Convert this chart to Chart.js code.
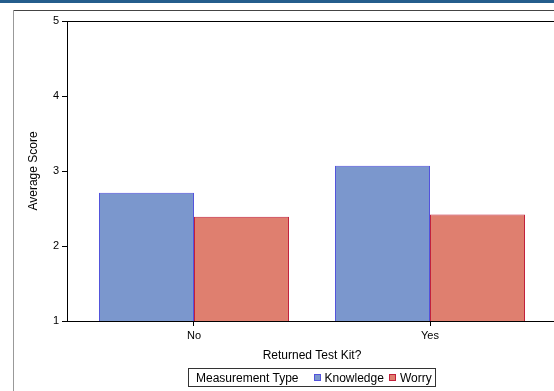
<!DOCTYPE html>
<html>
<head>
<meta charset="utf-8">
<script src="https://cdn.jsdelivr.net/npm/chart.js@4"></script>
<style>
  body { margin: 0; background: #fff; overflow: hidden; font-family: "Liberation Sans", Arial, sans-serif; }
  #wrap { position: relative; width: 554px; height: 391px; overflow: hidden; }
  #topband { position: absolute; left: 0; top: 0; width: 554px; height: 3px; background: #245d8c; }
  #frameTop { position: absolute; left: 13px; top: 10px; width: 541px; height: 1px; background: #444; }
  #frameLeft { position: absolute; left: 13px; top: 10px; width: 1px; height: 381px; background: #999; }
  #chart { position: absolute; left: 0; top: 0; }
  #legend { position: absolute; top: 368px; left: 188px; height: 17px; border: 1px solid #333;
    display: flex; align-items: center; font-size: 12px; color: #000; padding: 0 3px 0 7px; white-space: nowrap; }
  #legend .sw { display: inline-block; box-sizing: border-box; width: 7px; height: 7px; margin: 0 4px 0 5px; }
  #legend .sw.first { margin-left: 15px; }
</style>
</head>
<body>
<div id="wrap">
  <canvas id="chart" width="580" height="391"></canvas>
  <div id="topband"></div>
  <div id="frameTop"></div>
  <div id="frameLeft"></div>
  <div id="legend"></div>
</div>
<script>
// Data
const categories = ["No", "Yes"];
const seriesNames = ["Knowledge", "Worry"];
const knowledge = [2.71, 3.07];
const worry = [2.39, 2.42];
const yTicks = [1, 2, 3, 4, 5];

const fills = ["#7b97cd", "#df7f6f"];
const borders = ["#5252dc", "#c21f3a"];

// Legend (html, title inline like the original)
const legend = document.getElementById("legend");
legend.innerHTML = "<span>Measurement Type</span>" + seriesNames.map((n, i) =>
  `<span class="sw${i === 0 ? " first" : ""}" style="background:${fills[i]};border:1px solid ${borders[i]}"></span><span>${n}</span>`
).join("");

// top frame line of plot area
const frameLine = {
  id: "frameLine",
  afterDraw(chart) {
    const a = chart.chartArea;
    const ctx = chart.ctx;
    ctx.save();
    ctx.strokeStyle = "#000";
    ctx.lineWidth = 1;
    ctx.beginPath();
    ctx.moveTo(a.left, a.top + 0.5);
    ctx.lineTo(a.right, a.top + 0.5);
    ctx.stroke();
    ctx.restore();
  },
};

const data = {
  datasets: [knowledge, worry].map((vals, i) => ({
    label: seriesNames[i],
    data: vals.map((v, j) => ({ x: j, y: v })),
    backgroundColor: fills[i],
    borderColor: borders[i],
    borderWidth: 1,
    categoryPercentage: 0.805,
    barPercentage: 1,
  })),
};

const config = {
  type: "bar",
  data: data,
  options: {
    responsive: false,
    animation: false,
    devicePixelRatio: 1,
    layout: { padding: { left: 0, top: 21, right: 23, bottom: 28 } },
    plugins: {
      legend: { display: false },
      title: { display: false },
      tooltip: { enabled: false },
    },
    scales: {
      x: {
        type: "linear",
        offset: false,
        min: -0.538,
        max: 1.538,
        afterBuildTicks: (axis) => {
          axis.ticks = categories.map((c, i) => ({ value: i }));
        },
        afterFit: (axis) => { axis.height = 42; },
        grid: { display: true, offset: false, drawOnChartArea: false, drawTicks: true, tickLength: 5, color: "#000" },
        border: { display: true, color: "#000", width: 1 },
        ticks: {
          color: "#000",
          font: { family: "Liberation Sans", size: 11 },
          padding: 3,
          callback: (v) => categories[v],
        },
        title: {
          display: true,
          text: "Returned Test Kit?",
          color: "#000",
          font: { family: "Liberation Sans", size: 12 },
          padding: { top: 6, bottom: 0 },
        },
      },
      y: {
        min: 1,
        max: 5,
        afterBuildTicks: (axis) => {
          axis.ticks = yTicks.map((v) => ({ value: v }));
        },
        afterFit: (axis) => { axis.width = 67; },
        grid: { display: true, drawOnChartArea: false, drawTicks: true, tickLength: 5, color: "#000" },
        border: { display: true, color: "#000", width: 1 },
        ticks: {
          color: "#000",
          font: { family: "Liberation Sans", size: 11 },
          padding: 3,
        },
        title: {
          display: true,
          text: "Average Score",
          color: "#000",
          font: { family: "Liberation Sans", size: 12 },
          padding: { top: 26, bottom: 0 },
        },
      },
    },
  },
  plugins: [frameLine],
};

new Chart(document.getElementById("chart"), config);
</script>
</body>
</html>
